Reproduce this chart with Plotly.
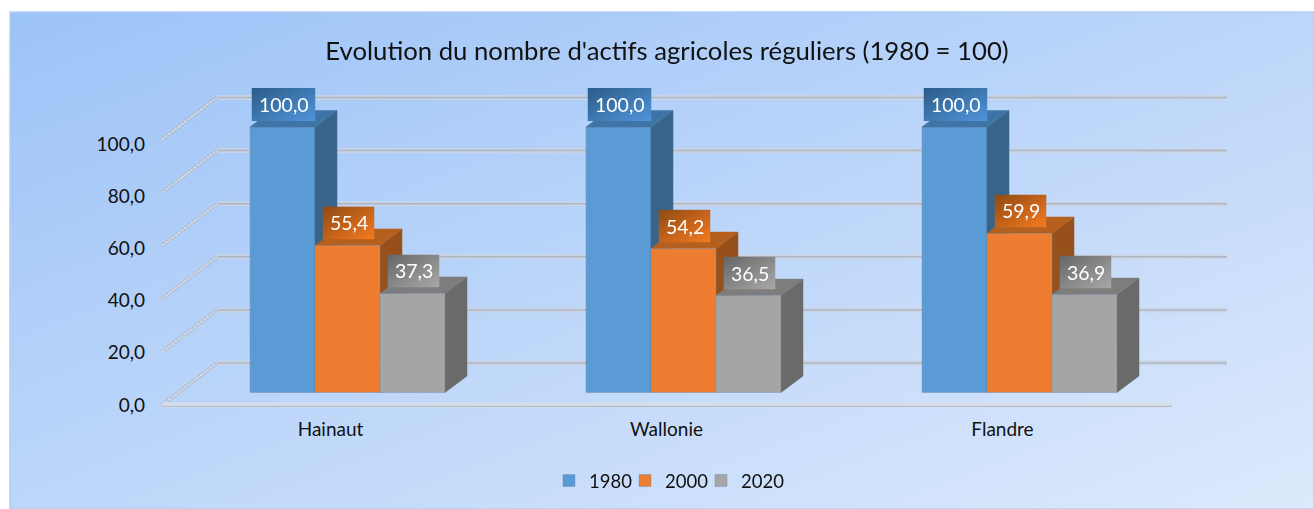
import base64
import plotly.graph_objects as go

categories = ["Hainaut", "Wallonie", "Flandre"]
years = ["1980", "2000", "2020"]
values_1980 = [100.0, 100.0, 100.0]
values_2000 = [55.4, 54.2, 59.9]
values_2020 = [37.3, 36.5, 36.9]
y_ticks = [0, 20, 40, 60, 80, 100]

series = [values_1980, values_2000, values_2020]
front = ["#5b9bd5", "#ed7d31", "#a5a5a5"]
top = ["#3f74a6", "#b5601f", "#7d7d7d"]
side = ["#38648a", "#98501b", "#6a6a6a"]
label_grad = [("#2c5c88", "#4f95da"), ("#8f4a14", "#f67a20"), ("#666666", "#a9a9a9")]

W, H = 1314, 509
FONT = "Lato"
PX_X = 336.0          # pixels per category
PX_Y = 2.655          # pixels per value unit
X0_PX, Y0_PX = 347.5, 392.5   # pixel position of first group centre, and of value 0
LABEL_X0_PX = 330.5
BAR_W = 65 / PX_X
DX, DY = 22 / PX_X, 16.5 / PX_Y


def ux(px):
    return (px - X0_PX) / PX_X


def uy(d):
    return d / PX_Y


def svg_grad(c1, c2):
    svg = (f"<svg xmlns='http://www.w3.org/2000/svg' width='100' height='100' viewBox='0 0 100 100' preserveAspectRatio='none'>"
           f"<defs><linearGradient id='g' x1='0' y1='0' x2='1' y2='1'>"
           f"<stop offset='0' stop-color='{c1}'/><stop offset='1' stop-color='{c2}'/></linearGradient></defs>"
           f"<rect width='100' height='100' fill='url(#g)'/></svg>")
    return "data:image/svg+xml;base64," + base64.b64encode(svg.encode()).decode()


fig = go.Figure()

# gridlines
f_l, f_r, b_l, b_r = ux(162), ux(1172), ux(217), ux(1227)
off_front, off_back = uy(-12.5), uy(29.5)
gx, gy, sx, sy = [], [], [], []
for g in y_ticks:
    gx += [b_l, b_r, None]
    gy += [g + off_back, g + off_back, None]
    sx += [f_l, b_l, None]
    sy += [g + off_front, g + off_back, None]
base = dict(mode="lines", hoverinfo="skip", showlegend=False, zorder=0)
fig.add_trace(go.Scatter(x=gx, y=gy, line=dict(color="rgba(205,212,225,0.85)", width=5), **base))
fig.add_trace(go.Scatter(x=gx, y=gy, line=dict(color="rgba(150,158,172,0.55)", width=1.5), **base))
fig.add_trace(go.Scatter(x=sx, y=sy, line=dict(color="rgba(175,185,200,0.8)", width=3.5), **base))
fig.add_trace(go.Scatter(x=sx, y=sy, line=dict(color="rgba(225,228,232,0.9)", width=1.5, dash="3px,1px"), **base))
fig.add_trace(go.Scatter(x=[f_l, f_r], y=[off_front, off_front], line=dict(color="rgba(215,222,232,0.95)", width=5), **base))
fig.add_trace(go.Scatter(x=[f_l, f_r], y=[off_front - 0.5, off_front - 0.5], line=dict(color="rgba(165,172,185,0.8)", width=1), **base))

x_pos = list(range(len(categories)))
z = 1
for s, vals in enumerate(series):
    offs = (s - 1) * BAR_W
    # side and top faces, computed from the values
    px_side, py_side, px_top, py_top = [], [], [], []
    for i, v in zip(x_pos, vals):
        xl, xr = i + offs - BAR_W / 2, i + offs + BAR_W / 2
        px_side += [xr, xr + DX, xr + DX, xr, xr, None]
        py_side += [0, DY, v + DY, v, 0, None]
        px_top += [xl, xl + DX, xr + DX, xr, xl, None]
        py_top += [v, v + DY, v + DY, v, v, None]
    bar = go.Bar(x=x_pos, y=vals, name=years[s], marker=dict(color=front[s], line=dict(color="rgba(120,140,170,0.45)", width=1)),
                 hoverinfo="skip", zorder=z + 2 if s else z)
    for xs, ys, c in ((px_side, py_side, side[s]), (px_top, py_top, top[s])):
        fig.add_trace(go.Scatter(x=xs, y=ys, mode="lines", fill="toself", fillcolor=c, line=dict(color=c, width=0.5),
                                 hoverinfo="skip", showlegend=False, zorder=z + 1))
    fig.add_trace(bar)
    z += 3

# blank legend entry: keeps the last label from being clipped by the legend box
fig.add_trace(go.Scatter(x=[None], y=[None], name="\u00a0", mode="markers", visible="legendonly",
                         marker=dict(color="rgba(0,0,0,0)")))

# front-wall axes carrying the tick labels
fig.add_trace(go.Scatter(x=x_pos, y=[0, 50, 100], xaxis="x2", yaxis="y2", mode="markers", opacity=0,
                         hoverinfo="skip", showlegend=False))

images = [dict(source=svg_grad("#9cc3f7", "#dde9fc"), xref="paper", yref="paper", x=10 / W, y=1 - 12 / H,
               sizex=(W - 10) / W, sizey=(H - 12) / H, sizing="stretch", xanchor="left", yanchor="top", layer="below")]
annotations = []
for s, vals in enumerate(series):
    offs = (s - 1) * BAR_W
    for i, v in zip(x_pos, vals):
        txt = f"{v:.1f}".replace(".", ",")
        bw = (64 if v >= 100 else 52) / PX_X
        cx = i + offs + 1 / PX_X
        cy = v + uy(22.5)
        images.append(dict(source=svg_grad(*label_grad[s]), xref="x", yref="y", x=cx - bw / 2, y=cy + uy(16.5),
                           sizex=bw, sizey=uy(33), sizing="stretch", xanchor="left", yanchor="top", layer="above"))
        annotations.append(dict(x=cx, y=cy, xref="x", yref="y", text=txt, showarrow=False,
                                font=dict(family=FONT, size=19.5, color="white")))

y2_bottom, y2_top = 1 - 405 / H, 1 - 144 / H
fig.update_layout(
    width=W, height=H, margin=dict(l=0, r=0, t=0, b=0, autoexpand=False),
    paper_bgcolor="white", plot_bgcolor="rgba(0,0,0,0)",
    barmode="group", bargap=0.42, bargroupgap=0, separators=", ",
    font=dict(family=FONT, color="#111111"),
    title=dict(text="Evolution du nombre d'actifs agricoles réguliers (1980 = 100)", x=667 / W, xanchor="center",
               y=1 - 51 / H, yanchor="middle", font=dict(family=FONT, size=25.7, color="#111111")),
    xaxis=dict(domain=[0, 1], range=[ux(0), ux(W)], visible=False),
    yaxis=dict(domain=[0, 1], range=[(Y0_PX - H) / PX_Y, Y0_PX / PX_Y], visible=False),
    xaxis2=dict(domain=[0, 1], anchor="y2", range=[-LABEL_X0_PX / PX_X, (W - LABEL_X0_PX) / PX_X], tickmode="array",
                tickvals=x_pos, ticktext=categories, showgrid=False, zeroline=False, showline=False,
                ticks="outside", ticklen=7, tickcolor="rgba(0,0,0,0)", tickfont=dict(family=FONT, size=19, color="#111111")),
    yaxis2=dict(domain=[y2_bottom, y2_top], anchor="free", position=145 / W, range=[0, 100], tickmode="array", tickvals=y_ticks,
                tickformat=".1f", showgrid=False, zeroline=False, showline=False,
                tickfont=dict(family=FONT, size=19, color="#111111")),
    legend=dict(orientation="h", x=549 / W, xanchor="left", y=1 - 481 / H, yanchor="middle", entrywidth=31, entrywidthmode="pixels",
                font=dict(family=FONT, size=18.5, color="#111111"), bgcolor="rgba(0,0,0,0)", traceorder="normal"),
    images=images, annotations=annotations,
    shapes=[dict(type="rect", xref="paper", yref="paper", x0=10 / W, x1=1, y0=0, y1=1 - 12 / H, layer="below",
                 line=dict(color="#b4cdf2", width=1.5), fillcolor="rgba(0,0,0,0)")],
)
fig.write_html("out.html", config={"displayModeBar": False},
               post_script="document.body.style.margin='0';document.body.style.overflow='hidden';")
